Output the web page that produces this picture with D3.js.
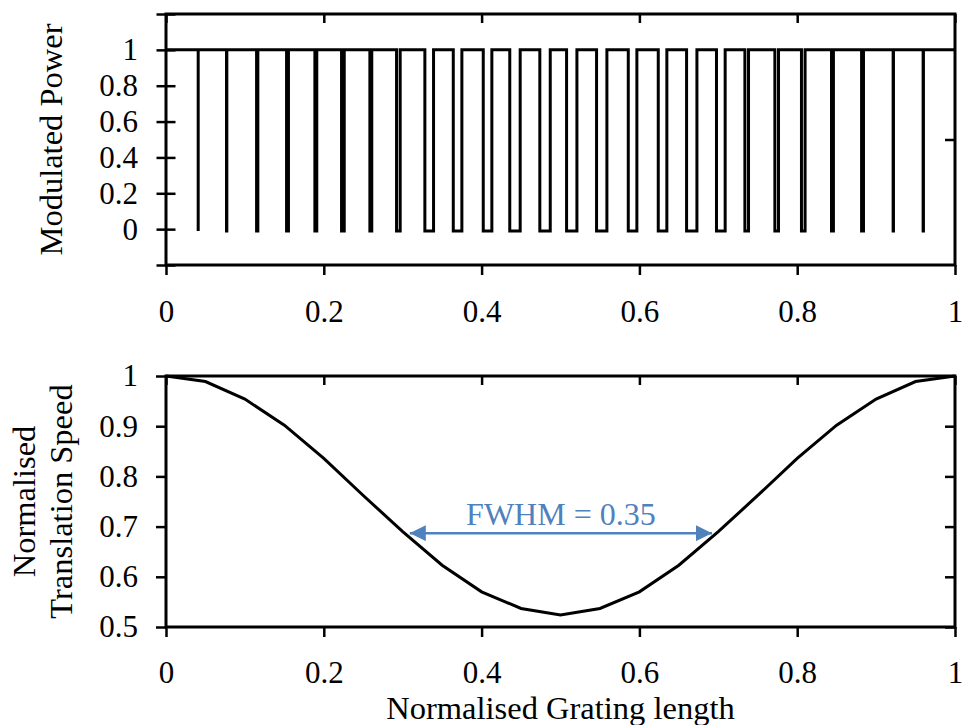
<!DOCTYPE html>
<html lang="en">
<head>
    <meta charset="UTF-8">
    <title>Modulated Power and Translation Speed</title>
    <style>
        body {
            margin: 0;
            background-color: #ffffff;
        }
        svg {
            display: block;
        }
        .axis text {
            font-family: "Liberation Serif", "Times New Roman", serif;
            font-size: 31px;
            fill: #000;
        }
        .axis path {
            display: none;
        }
        .axis line {
            stroke: #000;
            stroke-width: 2.5;
        }
        .frame {
            fill: none;
            stroke: #000;
            stroke-width: 3;
        }
        .axis-label {
            font-family: "Liberation Serif", "Times New Roman", serif;
            font-size: 32.5px;
            fill: #000;
        }
        .fwhm-label {
            font-family: "Liberation Serif", "Times New Roman", serif;
            font-size: 32px;
            fill: #4f81bd;
        }
    </style>
</head>
<body>
    <svg id="chart" width="962" height="725"></svg>

    <script src="https://d3js.org/d3.v7.min.js"></script>
    <script>
        // top panel: power drops to zero in short dips along the grating
        const dipStart = [0.0408, 0.0767, 0.1148, 0.1528, 0.1887, 0.2225, 0.2584, 0.2922, 0.3281, 0.3641,
                          0.4021, 0.4357, 0.4738, 0.5077, 0.5457, 0.5859, 0.6239, 0.6598, 0.6977, 0.7337,
                          0.7717, 0.8054, 0.8435, 0.8816, 0.9216, 0.9596];
        const dipEnd   = [0.0408, 0.0771, 0.1164, 0.1552, 0.1911, 0.2259, 0.2608, 0.2968, 0.3391, 0.3750,
                          0.4130, 0.4489, 0.4870, 0.5208, 0.5588, 0.5968, 0.6348, 0.6729, 0.7087, 0.7383,
                          0.7763, 0.8100, 0.8459, 0.8840, 0.9220, 0.9600];
        const powerHigh = 1;
        const powerLow = -0.01;

        // bottom panel: normalised translation speed
        const gratingPos = [0, 0.05, 0.10, 0.15, 0.20, 0.25, 0.30, 0.35, 0.40, 0.45, 0.50,
                            0.55, 0.60, 0.65, 0.70, 0.75, 0.80, 0.85, 0.90, 0.95, 1.00];
        const speed = [1.000, 0.989, 0.954, 0.902, 0.836, 0.762, 0.690, 0.623, 0.570, 0.537, 0.524,
                       0.537, 0.570, 0.623, 0.690, 0.762, 0.836, 0.902, 0.954, 0.989, 1.000];

        // FWHM annotation
        const fwhmText = "FWHM = 0.35";
        const fwhmFrom = 0.309, fwhmTo = 0.692, fwhmLevel = 0.687;

        // ticks
        const xTicks = [0, 0.2, 0.4, 0.6, 0.8, 1];
        const powerTicks = [-0.2, 0, 0.2, 0.4, 0.6, 0.8, 1, 1.2];
        const powerLabels = ["", "0", "0.2", "0.4", "0.6", "0.8", "1", ""];
        const powerRightTicks = [0.5];
        const speedTicks = [0.5, 0.6, 0.7, 0.8, 0.9, 1];
        const speedLabels = ["0.5", "0.6", "0.7", "0.8", "0.9", "1"];

        const svg = d3.select("#chart");
        const left = 166, right = 955;

        const x = d3.scaleLinear().domain([0, 1]).range([left, right]);
        const yTop = d3.scaleLinear().domain([-0.2, 1.2]).range([265, 14]);
        const yBot = d3.scaleLinear().domain([0.5, 1]).range([627, 376]);

        function drawPanel(y, opts) {
            const [y0, y1] = y.range(); // bottom, top

            // top ticks pointing in
            svg.append("g").attr("class", "axis")
                .attr("transform", `translate(0,${y1})`)
                .call(d3.axisTop(x).tickValues(xTicks).tickSize(-9).tickFormat(""));

            // bottom ticks pointing out with labels
            svg.append("g").attr("class", "axis")
                .attr("transform", `translate(0,${y0})`)
                .call(d3.axisBottom(x).tickValues(xTicks).tickSize(10)
                    .tickPadding(opts.xPad).tickFormat(d => String(d)));

            // left axis
            const yl = svg.append("g").attr("class", "axis")
                .attr("transform", `translate(${left},0)`)
                .call(d3.axisLeft(y).tickValues(opts.ticks).tickSize(opts.leftOut)
                    .tickPadding(opts.yPad).tickFormat((d, i) => opts.labels[i]));
            if (opts.leftIn) yl.selectAll(".tick line").attr("x1", opts.leftIn);

            // right axis ticks pointing in
            svg.append("g").attr("class", "axis")
                .attr("transform", `translate(${right},0)`)
                .call(d3.axisRight(y).tickValues(opts.rightTicks).tickSize(-10).tickFormat(""));

            svg.append("rect").attr("class", "frame")
                .attr("x", left).attr("y", y1)
                .attr("width", right - left).attr("height", y0 - y1);
        }

        drawPanel(yTop, {
            ticks: powerTicks, labels: powerLabels, rightTicks: powerRightTicks,
            leftOut: 9.5, leftIn: 9.5, yPad: 18.5, xPad: 25
        });
        drawPanel(yBot, {
            ticks: speedTicks, labels: speedLabels, rightTicks: speedTicks,
            leftOut: 10, leftIn: 0, yPad: 18, xPad: 24
        });

        // square wave of modulated power
        const wave = [[0, powerHigh]];
        dipStart.forEach((s, i) => {
            wave.push([s, powerHigh], [s, powerLow], [dipEnd[i], powerLow], [dipEnd[i], powerHigh]);
        });
        wave.push([1, powerHigh]);

        svg.append("path")
            .datum(wave)
            .attr("fill", "none")
            .attr("stroke", "#000")
            .attr("stroke-width", 3)
            .attr("stroke-linejoin", "miter")
            .attr("d", d3.line().x(d => x(d[0])).y(d => yTop(d[1])));

        // translation speed curve
        svg.append("path")
            .datum(gratingPos.map((g, i) => [g, speed[i]]))
            .attr("fill", "none")
            .attr("stroke", "#000")
            .attr("stroke-width", 3)
            .attr("d", d3.line().x(d => x(d[0])).y(d => yBot(d[1])));

        // FWHM double arrow
        const blue = "#4f81bd";
        const defs = svg.append("defs");
        defs.append("marker")
            .attr("id", "head")
            .attr("markerUnits", "userSpaceOnUse")
            .attr("viewBox", "0 0 16 16")
            .attr("refX", 16).attr("refY", 8)
            .attr("markerWidth", 16).attr("markerHeight", 16)
            .attr("orient", "auto-start-reverse")
            .append("path")
            .attr("d", "M0,0L16,8L0,16Z")
            .attr("fill", blue);

        svg.append("line")
            .attr("x1", x(fwhmFrom)).attr("x2", x(fwhmTo))
            .attr("y1", yBot(fwhmLevel)).attr("y2", yBot(fwhmLevel))
            .attr("stroke", blue)
            .attr("stroke-width", 2.5)
            .attr("marker-start", "url(#head)")
            .attr("marker-end", "url(#head)");

        svg.append("text")
            .attr("class", "fwhm-label")
            .attr("x", x((fwhmFrom + fwhmTo) / 2))
            .attr("y", yBot(fwhmLevel) - 8)
            .attr("text-anchor", "middle")
            .text(fwhmText);

        // axis titles
        svg.append("text")
            .attr("class", "axis-label")
            .attr("transform", `translate(62,${(yTop.range()[0] + yTop.range()[1]) / 2}) rotate(-90)`)
            .attr("text-anchor", "middle")
            .text("Modulated Power");

        const midBot = (yBot.range()[0] + yBot.range()[1]) / 2;
        svg.append("text")
            .attr("class", "axis-label")
            .attr("transform", `translate(35,${midBot}) rotate(-90)`)
            .attr("text-anchor", "middle")
            .text("Normalised");
        svg.append("text")
            .attr("class", "axis-label")
            .attr("transform", `translate(72,${midBot}) rotate(-90)`)
            .attr("text-anchor", "middle")
            .text("Translation Speed");

        svg.append("text")
            .attr("class", "axis-label")
            .attr("x", (left + right) / 2)
            .attr("y", 719)
            .attr("text-anchor", "middle")
            .text("Normalised Grating length");
    </script>
</body>
</html>
